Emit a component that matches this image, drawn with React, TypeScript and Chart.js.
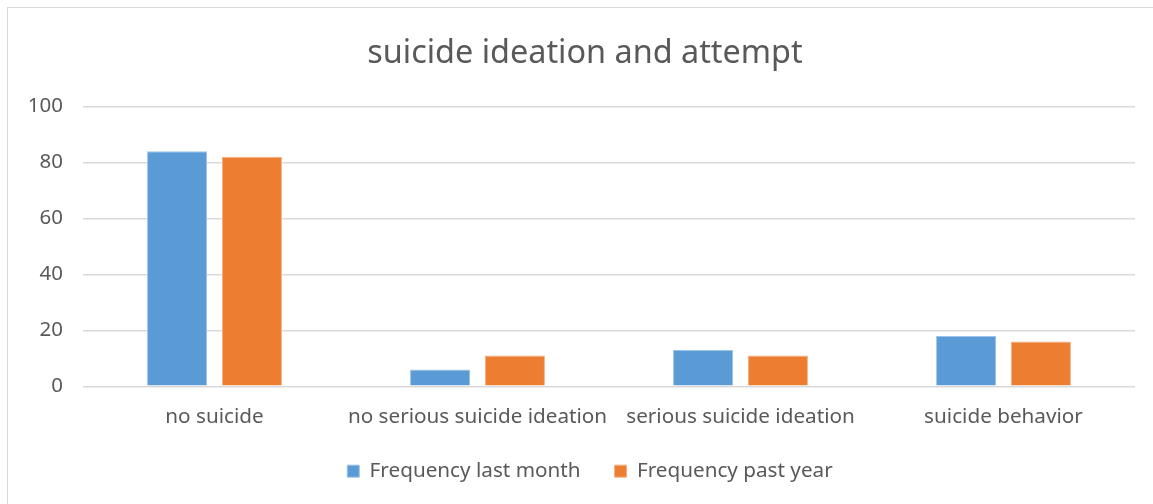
import React, { useEffect, useRef } from "react";
import { Chart, registerables } from "chart.js";

Chart.register(...registerables);

const categories = ["no suicide", "no serious suicide ideation", "serious suicide ideation", "suicide behavior"];
const lastMonth = [84, 6, 13, 18];
const pastYear = [82, 11, 11, 16];
const yTicks = [0, 20, 40, 60, 80, 100];

const FONT = "'Noto Sans', sans-serif";
const TEXT = "#595959";

const labelRoom = {
  id: "labelRoom",
  afterLayout(c: any) {
    const x = c.scales.x;
    x.bottom = x.top + 50;
    if (c.legend) {
      c.legend.left += 5;
      c.legend.right += 5;
    }
  },
};

export default function App() {
  const ref = useRef<HTMLCanvasElement | null>(null);
  useEffect(() => {
    document.body.style.margin = "0";
    const ctx = ref.current!.getContext("2d")!;
    const chart = new Chart(ctx, {
      type: "bar",
      data: {
        labels: categories,
        datasets: [
          {
            label: "Frequency last month",
            data: lastMonth,
            backgroundColor: "#5B9BD5",
            borderColor: "#9DC3E6",
            borderWidth: 1,
            categoryPercentage: 0.57,
            barPercentage: 0.8,
          },
          {
            label: "Frequency past year",
            data: pastYear,
            backgroundColor: "#ED7D31",
            borderColor: "#F4B183",
            borderWidth: 1,
            categoryPercentage: 0.57,
            barPercentage: 0.8,
          },
        ],
      },
      plugins: [labelRoom],
      options: {
        responsive: false,
        animation: false,
        layout: { padding: { left: 17, right: 0, top: 0, bottom: 12.5 } },
        plugins: {
          title: {
            display: true,
            text: "suicide ideation and attempt",
            color: TEXT,
            font: { family: FONT, size: 32.4, weight: "normal" },
            padding: { top: 34, bottom: 33.5 },
          },
          legend: {
            position: "bottom",
            labels: {
              color: TEXT,
              font: { family: FONT, size: 20.7 },
              boxWidth: 12,
              boxHeight: 12,
              padding: 34,
            },
          },
          tooltip: { enabled: false },
        },
        scales: {
          x: {
            grid: { display: false },
            border: { display: false },
            ticks: { color: TEXT, font: { family: FONT, size: 20.7 }, padding: 10, maxRotation: 0, minRotation: 0, autoSkip: false },
            afterFit: (s: any) => { s.height = 40.5; },
          },
          y: {
            min: 0,
            max: 100,
            afterBuildTicks: (s: any) => { s.ticks = yTicks.map((v) => ({ value: v })); },
            grid: { color: "#D9D9D9", lineWidth: 1.5, drawTicks: false },
            border: { display: false },
            ticks: { color: TEXT, font: { family: FONT, size: 20.5 }, padding: 20 },
            afterFit: (s: any) => { s.width = 66; },
          },
          yRight: {
            position: "right",
            grid: { display: false },
            border: { display: false },
            ticks: { display: false },
            afterFit: (s: any) => { s.width = 18; },
          },
        },
      },
    });
    return () => chart.destroy();
  }, []);
  return (
    <div style={{ position: "relative", width: 1153, height: 504, overflow: "hidden", background: "#fff" }}>
      <div style={{ position: "absolute", left: 7, top: 7, width: 1160, height: 510, border: "1px solid #D9D9D9" }} />
      <canvas ref={ref} width={1153} height={504} style={{ position: "absolute", left: 0, top: 0 }} />
    </div>
  );
}
